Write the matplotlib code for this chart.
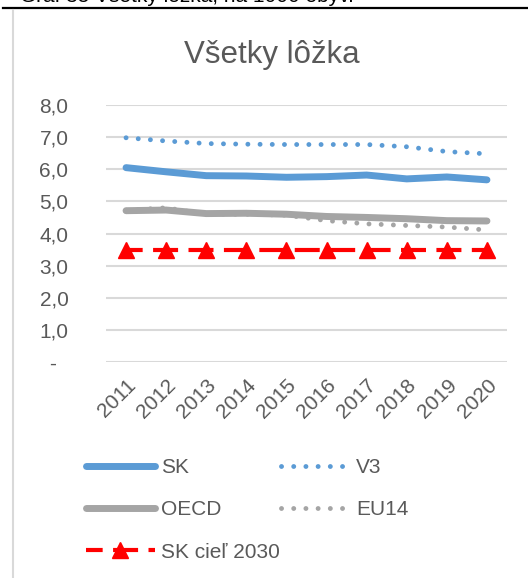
import numpy as np
import matplotlib
matplotlib.use("Agg")
import matplotlib.pyplot as plt
from matplotlib.lines import Line2D
from matplotlib.transforms import ScaledTranslation

plt.rcParams['font.family'] = ['Liberation Sans', 'DejaVu Sans']

roky = ["2011", "2012", "2013", "2014", "2015", "2016", "2017", "2018", "2019", "2020"]
sk = [6.05, 5.92, 5.80, 5.79, 5.75, 5.77, 5.82, 5.70, 5.76, 5.67]
v3 = [6.98, 6.88, 6.80, 6.78, 6.77, 6.77, 6.77, 6.70, 6.55, 6.48]
oecd = [4.71, 4.73, 4.62, 4.63, 4.60, 4.53, 4.50, 4.46, 4.40, 4.39]
eu14 = [4.72, 4.80, 4.60, 4.60, 4.57, 4.40, 4.30, 4.25, 4.20, 4.11]
ciel = [3.5] * 10
yticks = [0, 1, 2, 3, 4, 5, 6, 7, 8]
ylabels = ["-  ", "1,0", "2,0", "3,0", "4,0", "5,0", "6,0", "7,0", "8,0"]

W, H = 528, 578
fig = plt.figure(figsize=(W / 100, H / 100), dpi=100)
text_c = "#595959"
modra = "#5B9BD5"
seda = "#A5A5A5"

# horny popis (orezany) + ciara
fig.text(20 / W, 1 - 2 / H, "Graf 35 Všetky lôžka, na 1000 obyv.", fontsize=15,
         color="black", va="baseline", ha="left")
fig.add_artist(Line2D([3 / W, 1], [1 - 8 / H, 1 - 8 / H], color="black", lw=1.6))
fig.add_artist(Line2D([13 / W, 13 / W], [0, 1 - 10 / H], color="#D9D9D9", lw=1.5))

ax = fig.add_axes([106 / W, (H - 362) / H, (507 - 106) / W, (362 - 105) / H])
x = np.arange(len(roky))

ax.plot(x, sk, color=modra, lw=5, solid_capstyle="round", label="SK", zorder=3)
ax.plot(x, oecd, color=seda, lw=5, solid_capstyle="round", label="OECD", zorder=3)
ax.plot(x, ciel, color="#FF0000", lw=3, linestyle=(2, (6, 2.5)), marker="^",
        markersize=12, label="SK cieľ 2030", zorder=4)
ax.plot(x, v3, color=modra, lw=3.5, linestyle=(0, (0.01, 2.5)), dash_capstyle="round",
        label="V3", zorder=3)
ax.plot(x, eu14, color=seda, lw=3.5, linestyle=(0, (0.01, 2.5)), dash_capstyle="round",
        label="EU14", zorder=3)

ax.set_xlim(-0.5, len(roky) - 0.5)
ax.set_ylim(0, 8)
ax.set_yticks(yticks)
ax.set_yticklabels(ylabels)
ax.set_xticks(x)
ax.set_xticklabels(roky, rotation=45, ha="right", rotation_mode="anchor")
posun = ScaledTranslation(-6 / 100, 0, fig.dpi_scale_trans)
for t in ax.get_xticklabels():
    t.set_transform(t.get_transform() + posun)
ax.tick_params(axis="y", length=0, pad=27, labelsize=15, labelcolor=text_c)
ax.tick_params(axis="x", length=0, pad=10, labelsize=15, labelcolor=text_c)
ax.grid(axis="y", color="#D9D9D9", lw=1.5)
ax.set_axisbelow(True)
for s in ax.spines.values():
    s.set_visible(False)

fig.text(272 / W, 1 - 63 / H, "Všetky lôžka", fontsize=22.5, color=text_c,
         ha="center", va="baseline")

fig.legend(loc="upper left", bbox_to_anchor=(86 / W, 1 - 458 / H), ncol=2,
           frameon=False, fontsize=15, labelcolor=text_c, handlelength=3.3,
           handletextpad=0.3, labelspacing=1.12, columnspacing=0.05,
           borderpad=0, borderaxespad=0)

fig.savefig("out.png", dpi=100)
